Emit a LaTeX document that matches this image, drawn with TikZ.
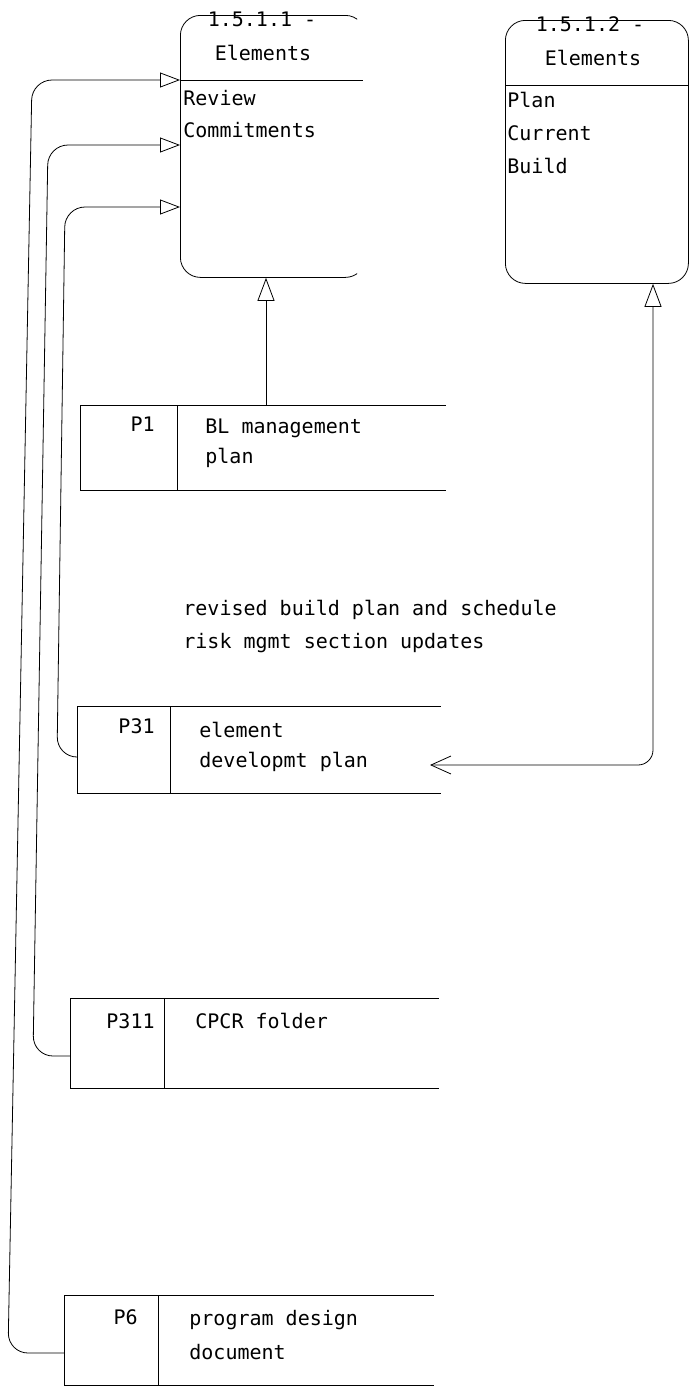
\documentclass[tikz,border=0pt]{standalone}
\usepackage{fontspec}
\newfontfamily\dmono{DejaVu Sans Mono}
\usetikzlibrary{arrows.meta}
\begin{document}
\begin{tikzpicture}[x=1pt,y=-1pt,line width=0.8pt,
  txt/.style={inner sep=0pt,font=\dmono\fontsize{20}{24}\selectfont},
  lt/.style={txt,anchor=west},
  rt/.style={txt,anchor=east},
  ent/.style={draw,rounded corners=20pt,inner sep=0pt,anchor=north west},
  pbox/.style={inner sep=0pt,anchor=north west},
  tri/.style={-{Triangle[open,length=20pt,width=15pt]}},
  tri2/.style={-{Triangle[open,length=23pt,width=17pt]}},
  flow/.style={rounded corners=20pt}]
\useasboundingbox (0,0) rectangle (690,1387);

% ---------- entity 1.5.1.1
\begin{scope}
\clip (150,0) rectangle (357,300);
\node[ent,minimum width=185pt,minimum height=262pt] (e1) at (180,15) {};
\end{scope}
\draw ([yshift=-65pt]e1.north west) -- ++(183,0);
\node[txt] (e1a) at (262,19) {1.5.1.1 -};
\node[txt] (e1b) at (263,53) {Elements};
\node[lt] (e1c) at (183,98) {Review};
\node[lt] (e1d) at (183,130) {Commitments};

% ---------- entity 1.5.1.2
\node[ent,minimum width=183pt,minimum height=263pt] (e2) at (505,20) {};
\draw ([yshift=-65pt]e2.north west) -- ([yshift=-65pt]e2.north east);
\node[txt] (e2a) at (590,24) {1.5.1.2 -};
\node[txt] (e2b) at (593,58) {Elements};
\node[lt] (e2c) at (507,100) {Plan};
\node[lt] (e2d) at (507,133) {Current};
\node[lt] (e2e) at (507,166) {Build};

% ---------- P1
\node[pbox,minimum width=365pt,minimum height=85pt] (p1) at (80,405) {};
\draw (p1.north east) -- (p1.north west) -- (p1.south west) -- (p1.south east);
\draw (177,405) -- (177,490);
\node[rt] (p1n) at (155,424) {P1};
\node[lt] (p1a) at (205,428) {BL management};
\node[lt] (p1b) at (205,458) {plan};

% ---------- P31
\node[pbox,minimum width=363pt,minimum height=87pt] (p31) at (77,706) {};
\draw (p31.north east) -- (p31.north west) -- (p31.south west) -- (p31.south east);
\draw (170,706) -- (170,793);
\node[rt] (p31n) at (155,726) {P31};
\node[lt] (p31a) at (199,730) {element};
\node[lt] (p31b) at (199,762) {developmt plan};

% ---------- P311
\node[pbox,minimum width=368pt,minimum height=90pt] (p311) at (70,998) {};
\draw (p311.north east) -- (p311.north west) -- (p311.south west) -- (p311.south east);
\draw (164,998) -- (164,1088);
\node[rt] (p311n) at (155,1021) {P311};
\node[lt] (p311a) at (195,1021) {CPCR folder};

% ---------- P6
\node[pbox,minimum width=369pt,minimum height=90pt] (p6) at (64,1295) {};
\draw (p6.north east) -- (p6.north west) -- (p6.south west) -- (p6.south east);
\draw (158,1295) -- (158,1385);
\node[rt] (p6n) at (138,1317) {P6};
\node[lt] (p6a) at (189,1320) {program design};
\node[lt] (p6b) at (189,1352) {document};

% ---------- flow label
\node[lt] (lab1) at (183,610) {revised build plan and schedule};
\node[lt] (lab2) at (183,643) {risk mgmt section updates};

% ---------- connection points
\coordinate (inA) at (e1.north west |- 0,80);
\coordinate (inB) at (e1.north west |- 0,145);
\coordinate (inC) at (e1.north west |- 0,207);
\coordinate (outA) at (p6.north west |- 0,1353);
\coordinate (outB) at (p311.north west |- 0,1056);
\coordinate (outC) at (p31.north west |- 0,757);
\coordinate (tipD) at (430,765);

% ---------- connectors
\draw[tri,flow] (outA) -- (8,1353) -- (32,80) -- (inA);
\draw[tri,flow] (outB) -- (33,1056) -- (48,145) -- (inB);
\draw[tri,flow] (outC) -- (57,757) -- (65,207) -- (inC);
\draw[tri2] (p1.north west -| 266,0) -- (e1.south west -| 266,0);
\draw[{Straight Barb[length=20pt,width=18pt]}-{Triangle[open,length=23pt,width=17pt]},rounded corners=15pt]
  (tipD) -- (653,765) -- (e2.south west -| 653,0);
\end{tikzpicture}
\end{document}
